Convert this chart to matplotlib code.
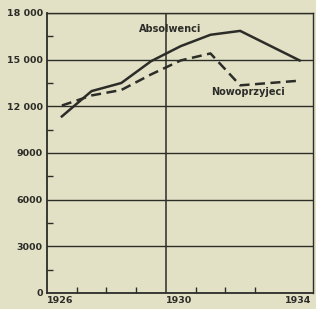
import numpy as np
import matplotlib
matplotlib.use("Agg")
import matplotlib.pyplot as plt

# school years, points sit mid-year between the ticks
years = [1926.5, 1927.5, 1928.5, 1929.5, 1930.5, 1931.5, 1932.5, 1933.5, 1934.5]
absolwenci = [11350, 12980, 13500, 14900, 15870, 16600, 16850, 15900, 14950]
nowoprzyjeci = [12050, 12700, 13050, 14050, 14950, 15400, 13350, 13500, 13650]

y_major = [0, 3000, 6000, 9000, 12000, 15000, 18000]
y_labels = ["0", "3000", "6000", "9000", "12 000", "15 000", "18 000"]
x_labels = [1926, 1930, 1934]

bg = "#e2e1c5"
ink = "#2c2c28"

fig = plt.figure(figsize=(3.16, 3.09), dpi=100, facecolor=bg)
ax = fig.add_axes([47 / 316, 16 / 309, 266 / 316, 280 / 309], facecolor=bg)

# grid lines every 3000 and the 1930 divider
for v in y_major[1:]:
    ax.axhline(v, color=ink, lw=1.0, zorder=1)
ax.axvline(1930, color=ink, lw=1.1, zorder=1)

ax.plot(years, absolwenci, color=ink, lw=1.8, solid_joinstyle="miter", zorder=3)
ax.plot(years, nowoprzyjeci, color=ink, lw=1.8, dashes=(4, 2.2), zorder=3)

ax.text(1930.15, 17000, "Absolwenci", fontsize=7, fontweight="bold",
        color=ink, ha="center", va="center")
ax.text(1932.75, 12950, "Nowoprzyjeci", fontsize=7, fontweight="bold",
        color=ink, ha="center", va="center")

ax.set_xlim(1926, 1934.95)
ax.set_ylim(0, 18000)

ax.set_yticks(y_major)
ax.set_yticklabels(y_labels)
ax.set_yticks(np.arange(1500, 18000, 3000), minor=True)
ax.set_xticks(x_labels)
ax.set_xticklabels([str(x) for x in x_labels], ha="left")
ax.set_xticks(range(1927, 1935), minor=True)

ax.tick_params(axis="both", which="major", length=0, labelsize=6.8, colors=ink, pad=3)
ax.tick_params(axis="y", which="minor", direction="in", length=4, width=1, color=ink)
ax.tick_params(axis="x", which="minor", direction="in", length=4, width=1, color=ink)
ax.tick_params(axis="x", which="major", pad=2)
for lab in ax.get_xticklabels() + ax.get_yticklabels():
    lab.set_fontweight("bold")

for side in ["left", "bottom"]:
    ax.spines[side].set_color(ink)
    ax.spines[side].set_linewidth(1.3)
for side in ["top", "right"]:
    ax.spines[side].set_color(ink)
    ax.spines[side].set_linewidth(1.0)

fig.savefig("out.png", dpi=100, facecolor=bg)
